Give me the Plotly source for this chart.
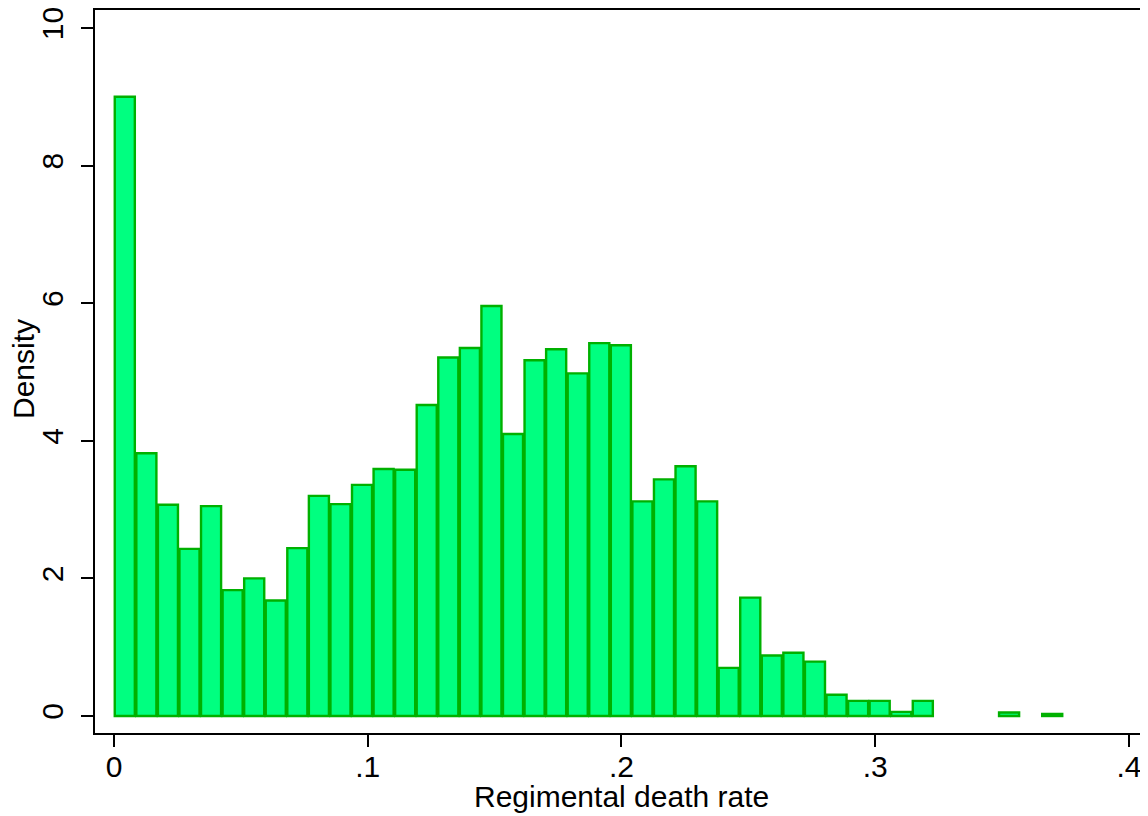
import plotly.graph_objects as go

# Histogram of regimental death rate (density scale)
bin_start = 0.0
bin_width = 0.0085
density = [9.00, 3.82, 3.07, 2.43, 3.05, 1.83, 2.00, 1.68, 2.44, 3.20,
           3.08, 3.36, 3.59, 3.58, 4.52, 5.21, 5.35, 5.96, 4.10, 5.17,
           5.33, 4.98, 5.42, 5.39, 3.12, 3.44, 3.63, 3.12, 0.70, 1.72,
           0.88, 0.92, 0.79, 0.31, 0.22, 0.22, 0.06, 0.22, None, None,
           None, 0.05, None, 0.03]
x_tickvals = [0, 0.1, 0.2, 0.3, 0.4]
x_ticktext = ["0", ".1", ".2", ".3", ".4"]
y_tickvals = [0, 2, 4, 6, 8, 10]
y_ticktext = ["0", "2", "4", "6", "8", "10"]
x_title = "Regimental death rate"
y_title = "Density"

centers = [bin_start + bin_width * (i + 0.5) for i in range(len(density))]

fig = go.Figure(go.Bar(
    x=centers, y=density, width=bin_width * 0.93,
    marker=dict(color="#00FF80", line=dict(color="#00B000", width=2.4)),
))

font = "Liberation Sans, Arial, sans-serif"
fig.update_layout(
    width=1140, height=808,
    margin=dict(l=87, r=0, t=2, b=83),
    paper_bgcolor="white", plot_bgcolor="white",
    showlegend=False,
    font=dict(family=font, size=30, color="black"),
    xaxis=dict(range=[-0.00749, 0.4075], tickvals=x_tickvals, ticktext=x_ticktext,
               showgrid=False, zeroline=False, showline=True, linecolor="black",
               linewidth=2, mirror=True, ticks="outside", ticklen=12, tickwidth=1.5,
               tickcolor="black", automargin=False, ticklabelstandoff=-6,
               ticklabeloverflow="allow"),
    yaxis=dict(range=[-0.247, 10.262], tickvals=y_tickvals, ticktext=y_ticktext,
               showgrid=False, zeroline=False, showline=True, linecolor="black",
               linewidth=2, ticks="outside", ticklen=12, tickwidth=1.5,
               tickcolor="black", tickangle=-90, ticklabelstandoff=6,
               automargin=False, ticklabeloverflow="allow"),
    annotations=[
        dict(text=x_title, xref="paper", yref="paper", x=0.5, y=-0.0885,
             xanchor="center", yanchor="middle", showarrow=False,
             font=dict(size=30)),
        dict(text=y_title, xref="paper", yref="paper", x=-0.0674, y=0.5035,
             xanchor="center", yanchor="middle", showarrow=False, textangle=-90,
             font=dict(size=30)),
    ],
)

fig.write_html("out.html")
